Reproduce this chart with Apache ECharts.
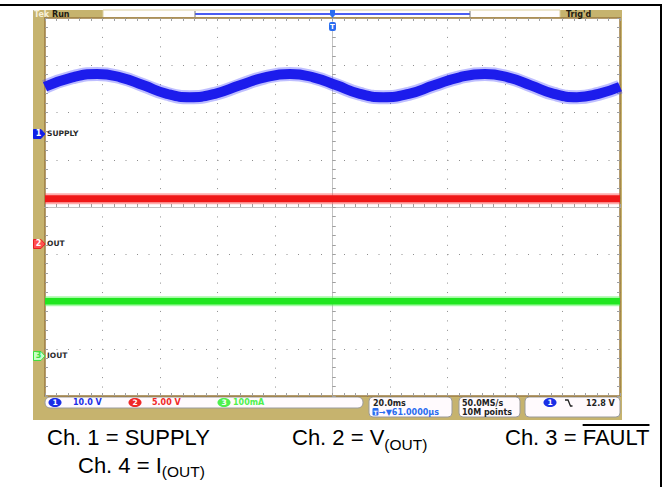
<!DOCTYPE html>
<html><head><meta charset="utf-8">
<script src="https://cdn.jsdelivr.net/npm/echarts@6/dist/echarts.min.js"></script>
<style>html,body{margin:0;padding:0;background:#fff}#c{width:669px;height:487px}</style>
</head><body><div id="c"></div>
<script>
// ---- data ----
const timeTicksMs = [-100, -80, -60, -40, -20, 0, 20, 40, 60, 80, 100]; // 20 ms/div
const supplyTimes = [-100, -90.5, -81.9, -73.8, -65.7, -57.6, -49.6, -40.9, -32.2, -23.5, -14.8, -6.7, 1.4, 9.5, 17.6, 26.5, 35.3, 44.2, 53.0, 61.0, 69.0, 77.0, 85.0, 92.5, 100];
const supplyVolts = [10.0, 12.0, 12.7, 12.0, 10.3, 8.5, 7.8, 8.5, 10.3, 12.0, 12.7, 12.0, 10.3, 8.5, 7.8, 8.5, 10.3, 12.0, 12.7, 12.0, 10.3, 8.5, 7.8, 8.5, 10.0];
const outTimes = [-100, 100];
const outVolts = [4.8, 4.8];
const ioutTimes = [-100, 100];
const ioutMilliamps = [116, 116];
const channelNames = ['SUPPLY', 'OUT', 'IOUT'];
const channelScaleLabels = ['10.0 V', '5.00 V', '100mA'];
const channelPerDiv = [10, 5, 100];
const channelGroundDiv = [1.545, -0.783, -3.153];
const captions = ['Ch. 1 = SUPPLY', 'Ch. 2 = V', 'Ch. 3 = ', 'Ch. 4 = I'];

// ---- build ----
const toDiv = (v, ch) => channelGroundDiv[ch] + v / channelPerDiv[ch];
const supplyData = supplyTimes.map((t, i) => [t, toDiv(supplyVolts[i], 0)]);
const outData = outTimes.map((t, i) => [t, toDiv(outVolts[i], 1)]);
const ioutData = ioutTimes.map((t, i) => [t, toDiv(ioutMilliamps[i], 2)]);

const chart = echarts.init(document.getElementById('c'), null, {renderer: 'svg', width: 669, height: 487});

const tickGray = '#a0a0a0';
const tMin = timeTicksMs[0], tMax = timeTicksMs[timeTicksMs.length - 1], tInt = timeTicksMs[1] - timeTicksMs[0];
function xAx(o) {
  return Object.assign({type: 'value', min: tMin, max: tMax, interval: tInt, axisLabel: {show: false}, splitLine: {show: false}}, o);
}
function yAx(o) {
  return Object.assign({type: 'value', min: -4, max: 4, interval: 1, axisLabel: {show: false}, splitLine: {show: false}}, o);
}
const frameLine = {show: true, onZero: false, lineStyle: {color: '#9b7b40', width: 1.5}};
const frameTick = {show: true, inside: true, length: 3, lineStyle: {color: tickGray}};
const frameMinor = {show: true, splitNumber: 5, length: 3, lineStyle: {color: tickGray}};
const centerLine = () => ({show: true, onZero: true, onZeroAxisIndex: 0, lineStyle: {color: '#c2c2c2', width: 1}});
const ctrTick = (inside) => ({show: true, inside: inside, length: 3, lineStyle: {color: tickGray}});

function lineSeries(data, width, color, z, smooth) {
  return {type: 'line', data: data, smooth: smooth, showSymbol: false, symbol: 'none', silent: true,
    animation: false, z: z, xAxisIndex: 0, yAxisIndex: 0,
    lineStyle: {width: width, color: color, cap: 'butt'}};
}

chart.setOption({
  animation: false,
  grid: {left: 45, top: 18, width: 575, height: 378, containLabel: false, outerBoundsMode: 'none'},
  xAxis: [
    xAx({position: 'bottom', axisLine: frameLine, axisTick: frameTick, minorTick: frameMinor,
      splitLine: {show: true, lineStyle: {color: '#8e8e8e', width: 1, type: [1, 8.45]}}}),
    xAx({position: 'top', axisLine: frameLine, axisTick: frameTick, minorTick: frameMinor}),
    xAx({position: 'bottom', axisLine: centerLine(), axisTick: ctrTick(true), minorTick: frameMinor}),
    xAx({position: 'top', axisLine: centerLine(), axisTick: ctrTick(false), minorTick: frameMinor})
  ],
  yAxis: [
    yAx({position: 'left', axisLine: frameLine, axisTick: frameTick, minorTick: frameMinor,
      splitLine: {show: true, lineStyle: {color: '#8e8e8e', width: 1, type: [1, 10.5]}}}),
    yAx({position: 'right', axisLine: frameLine, axisTick: frameTick, minorTick: frameMinor}),
    yAx({position: 'left', axisLine: centerLine(), axisTick: ctrTick(true), minorTick: frameMinor}),
    yAx({position: 'right', axisLine: centerLine(), axisTick: ctrTick(false), minorTick: frameMinor})
  ],
  series: [
    lineSeries(supplyData, 14, 'rgba(70,70,255,0.35)', 3, 0.5),
    lineSeries(supplyData, 10, '#1c1cec', 4, 0.5),
    lineSeries(outData, 11, 'rgba(255,70,70,0.45)', 3, false),
    lineSeries(outData, 7, '#f01818', 4, false),
    lineSeries(ioutData, 10, 'rgba(80,245,80,0.5)', 3, false),
    lineSeries(ioutData, 6.5, '#20e620', 4, false)
  ]
});

// ---- scope furniture (graphic) ----
const yPix = (d) => chart.convertToPixel({yAxisIndex: 0}, d);
const xPix = (t) => chart.convertToPixel({xAxisIndex: 0}, t);
const tan = '#c6b36e';
const g = [];
const rect = (x, y, w, h, fill, stroke, r, z) => g.push({type: 'rect', shape: {x, y, width: w, height: h, r: r || 0}, style: {fill, stroke: stroke || null, lineWidth: stroke ? 1 : 0}, z: z == null ? -5 : z, silent: true});
const txt = (x, y, text, o, z) => g.push({type: 'text', x, y, style: Object.assign({text, fontFamily: 'DejaVu Sans', fontWeight: 'bold', fontSize: 8, fill: '#222', verticalAlign: 'middle', align: 'left'}, o), z: z == null ? 10 : z, silent: true});
const line = (x1, y1, x2, y2, stroke, w, z) => g.push({type: 'line', shape: {x1, y1, x2, y2}, style: {stroke, lineWidth: w}, z: z == null ? 10 : z, silent: true});

// outer black border of the figure
line(0, 5, 662, 5, '#000', 2);
line(661, 5, 661, 487, '#000', 2);

// tan bezel and white screen
rect(33, 10, 589, 410, tan, null, 0, -8);
rect(45, 18, 575, 378, '#ffffff', null, 0, -7);

// header
txt(34, 14, 'Tek', {fill: '#f6efd8', fontSize: 8});
txt(52, 14, 'Run', {fill: '#1e1a10', fontSize: 8});
rect(103, 10, 457, 7.5, '#fffdfd', '#dccf9f', 0, -6);
line(195, 14, 470, 14, '#4a5cf2', 2, 5);
line(195, 11, 195, 17, '#777', 1, 6);
line(470, 11, 470, 17, '#777', 1, 6);
txt(566, 14, "Trig'd", {fill: '#1e1a10', fontSize: 8});

// trigger position markers at t = 0
const x0 = xPix(0);
g.push({type: 'polygon', shape: {points: [[x0 - 2.5, 10], [x0 + 2.5, 10], [x0 + 2.5, 15], [x0, 18], [x0 - 2.5, 15]]}, style: {fill: '#2a6cf0'}, z: 12, silent: true});
rect(x0 - 3.5, 22, 7, 9, '#2a6cf0', null, 2, 12);
txt(x0, 26.5, 'T', {fill: '#fff', fontSize: 7, align: 'center'}, 13);

// channel ground markers
const mk = [
  {fill: '#1020e8', stroke: '#1020e8', tc: '#ffffff'},
  {fill: '#ff5050', stroke: '#e82020', tc: '#ffffff'},
  {fill: '#c8ffc8', stroke: '#3ee03e', tc: '#ffffff'}
];
channelGroundDiv.forEach((d, i) => {
  const y = yPix(d);
  g.push({type: 'polygon', shape: {points: [[33.5, y - 4.5], [41, y - 4.5], [45, y], [41, y + 4.5], [33.5, y + 4.5]]},
    style: {fill: mk[i].fill, stroke: mk[i].stroke, lineWidth: 1}, z: 12, silent: true});
  txt(38.5, y, String(i + 1), {fill: i === 2 ? '#3ee03e' : mk[i].tc, fontSize: 8, align: 'center'}, 13);
  txt(47, y, channelNames[i], {fill: '#2a2a2a', fontSize: 7.5});
});

// status bar
rect(45, 397, 318, 11, '#fffafd', '#9a9a9a', 5, -4);
const oval = (cx, cy, fill, label) => {
  g.push({type: 'ellipse', shape: {cx, cy, rx: 6.5, ry: 4.5}, style: {fill}, z: 11, silent: true});
  txt(cx, cy, label, {fill: '#fff', fontSize: 7.5, align: 'center'}, 12);
};
const chColors = ['#1a2ee6', '#f02828', '#4ef04e'];
const ovalX = [55, 135, 224];
const labelX = [73, 152, 233];
channelScaleLabels.forEach((s, i) => {
  oval(ovalX[i], 402.5, chColors[i], String(i + 1));
  txt(labelX[i], 402.8, s, {fill: chColors[i], fontSize: 8});
});
rect(369, 397, 83, 20, '#fffafd', '#9a9a9a', 4, -4);
txt(373, 403, '20.0ms', {fontSize: 8});
rect(372.5, 408, 6, 7.5, '#2a6cf0', null, 1, 11);
txt(375.5, 412, 'T', {fill: '#fff', fontSize: 6, align: 'center'}, 12);
txt(379, 412, '\u2192\u25BC61.0000\u00B5s', {fill: '#2a6cf0', fontSize: 8});
rect(459, 397, 61, 20, '#fffafd', '#9a9a9a', 4, -4);
txt(462, 403, '50.0MS/s', {fontSize: 8});
txt(462, 412, '10M points', {fontSize: 8});
rect(525, 397, 95, 20, '#fffafd', '#9a9a9a', 4, -4);
oval(550, 402.5, '#1a2ee6', '1');
g.push({type: 'polyline', shape: {points: [[565, 400], [568, 400], [570.5, 406], [572.5, 406]]}, style: {stroke: '#222', lineWidth: 1.3, fill: null}, z: 11, silent: true});
txt(586, 403, '12.8 V', {fontSize: 8});

// captions below the screenshot
const capFont = '"Liberation Sans", Arial, sans-serif';
const meas = document.createElement('canvas').getContext('2d');
const width = (s, px) => { meas.font = px + 'px "Liberation Sans"'; return meas.measureText(s).width; };
const cap = (x, y, s, px) => g.push({type: 'text', x, y, style: {text: s, fontFamily: capFont, fontSize: px, fill: '#000', verticalAlign: 'middle', align: 'left'}, z: 10, silent: true});
const r1 = 437.5, r2 = 465;
const F = 22, S = 15.5;
cap(47, r1, captions[0], F);
cap(292, r1, captions[1], F);
cap(292 + width(captions[1], F), r1 + 6.5, '(OUT)', S);
cap(505, r1, captions[2], F);
const fx = 505 + width(captions[2], F);
cap(fx, r1, 'FAULT', F);
line(fx, 425, fx + width('FAULT', F), 425, '#000', 2);
cap(78, r2, captions[3], F);
cap(78 + width(captions[3], F), r2 + 6.5, '(OUT)', S);

chart.setOption({graphic: {elements: g}});
</script>
</body></html>
